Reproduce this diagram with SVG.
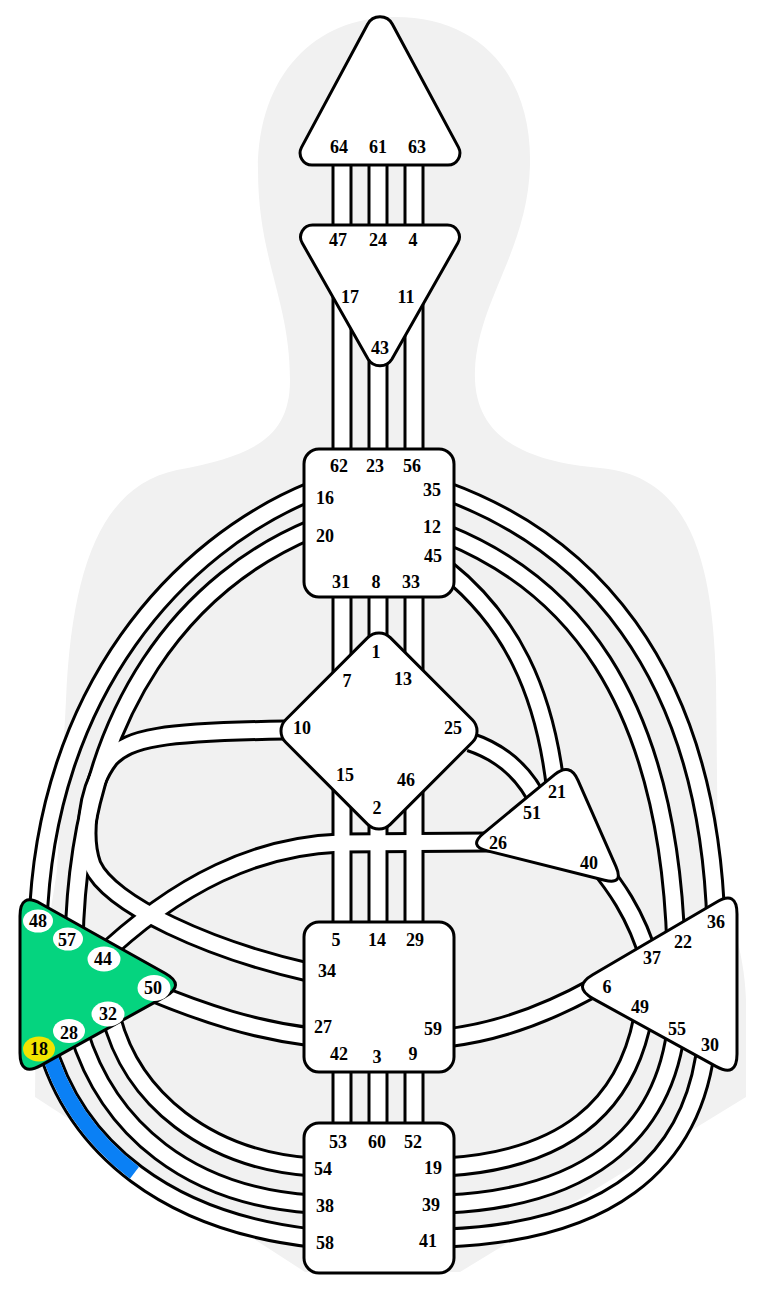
<svg xmlns="http://www.w3.org/2000/svg" width="760" height="1302" viewBox="0 0 760 1302">
<style>
.bg{fill:#f1f1f1}
.outline use{fill:none;stroke:#000;stroke-width:21}
.inner use{fill:none;stroke:#fff;stroke-width:15}
.ctr{fill:#fff;stroke:#000;stroke-width:3;stroke-linejoin:round}
.spl{fill:#05d47f;stroke:#000;stroke-width:3;stroke-linejoin:round}
.gate{fill:#fff}
.act{fill:#f2e400}
text{font-family:"Liberation Serif","Times New Roman",serif;font-weight:bold;font-size:18px;text-anchor:middle;fill:#000}
</style>
<defs>
<path id="c64-47" d="M342 160V230"/>
<path id="c61-24" d="M378 160V230"/>
<path id="c63-4" d="M414 160V230"/>
<path id="c17-62" d="M342 260V455"/>
<path id="c43-23" d="M378 340V455"/>
<path id="c11-56" d="M414 260V455"/>
<path id="c31-7" d="M342 592V700"/>
<path id="c8-1" d="M378 592V650"/>
<path id="c33-13" d="M414 592V700"/>
<path id="c15-5" d="M342 760V928"/>
<path id="c2-14" d="M378 810V928"/>
<path id="c46-29" d="M414 760V928"/>
<path id="c42-53" d="M342 1068V1128"/>
<path id="c3-60" d="M378 1068V1128"/>
<path id="c9-52" d="M414 1068V1128"/>
<path id="c16-48" d="M312 491C180 545 45 690 38 925"/>
<path id="c20-57" d="M312 529C195 578 78 700 74 945"/>
<path id="c10-34" d="M312 973C210 950 110 905 92 865C83 840 85 790 110 758C130 738 160 732 285 730"/>
<path id="c27-50" d="M312 1037C255 1030 205 1014 150 991"/>
<path id="c44-26" d="M490 842L340 843C260 846 180 880 95 962"/>
<path id="c58-18" pathLength="100" d="M45 1040C75 1150 170 1222 312 1238"/>
<path id="c38-28" d="M78 1030C108 1130 190 1196 312 1204"/>
<path id="c54-32" d="M110 1012C130 1100 210 1160 312 1167"/>
<path id="c35-36" d="M446 491C580 540 708 660 716 925"/>
<path id="c12-22" d="M446 534C565 582 668 690 676 948"/>
<path id="c45-21" d="M446 569C510 620 545 690 556 792"/>
<path id="c25-51" d="M470 742C500 752 525 772 540 805"/>
<path id="c40-37" d="M596 862C612 882 636 912 650 962"/>
<path id="c59-6" d="M446 1038C500 1032 550 1012 595 987"/>
<path id="c49-19" d="M645 1005C630 1110 560 1160 446 1167"/>
<path id="c55-39" d="M677 1022C665 1140 580 1198 446 1204"/>
<path id="c30-41" d="M707 1038C695 1170 600 1232 446 1238"/>
</defs>
<path id="body" class="bg" d="M395 17C480 17 532 75 530 165C528 250 478 300 475 370C472 440 530 462 600 468C690 476 713 560 716 680L718 870C725 900 745 950 746 1000L746 1097L460 1272L305 1272L35 1097L36 1000C37 980 50 920 57 870L66 700C72 560 105 485 177 470C250 456 290 440 290 380C290 300 258 260 258 170C258 75 315 17 395 17Z"/>
<g id="connectors">
<g class="outline">
<use href="#c64-47"/><use href="#c61-24"/><use href="#c63-4"/>
<use href="#c17-62"/><use href="#c43-23"/><use href="#c11-56"/>
<use href="#c31-7"/><use href="#c8-1"/><use href="#c33-13"/>
<use href="#c15-5"/><use href="#c2-14"/><use href="#c46-29"/>
<use href="#c42-53"/><use href="#c3-60"/><use href="#c9-52"/>
<use href="#c16-48"/><use href="#c20-57"/><use href="#c10-34"/>
<use href="#c27-50"/><use href="#c44-26"/><use href="#c58-18"/>
<use href="#c38-28"/><use href="#c54-32"/><use href="#c35-36"/>
<use href="#c12-22"/><use href="#c45-21"/><use href="#c25-51"/>
<use href="#c40-37"/><use href="#c59-6"/><use href="#c49-19"/>
<use href="#c55-39"/><use href="#c30-41"/>
</g>
<g class="inner">
<use href="#c64-47"/><use href="#c61-24"/><use href="#c63-4"/>
<use href="#c17-62"/><use href="#c43-23"/><use href="#c11-56"/>
<use href="#c31-7"/><use href="#c8-1"/><use href="#c33-13"/>
<use href="#c15-5"/><use href="#c2-14"/><use href="#c46-29"/>
<use href="#c42-53"/><use href="#c3-60"/><use href="#c9-52"/>
<use href="#c16-48"/><use href="#c20-57"/><use href="#c10-34"/>
<use href="#c27-50"/><use href="#c44-26"/><use href="#c58-18"/>
<use href="#c38-28"/><use href="#c54-32"/><use href="#c35-36"/>
<use href="#c12-22"/><use href="#c45-21"/><use href="#c25-51"/>
<use href="#c40-37"/><use href="#c59-6"/><use href="#c49-19"/>
<use href="#c55-39"/><use href="#c30-41"/>
</g>
<use href="#c58-18" fill="none" stroke="#0a80f5" stroke-width="15" stroke-dasharray="46 200"/>
</g>
<g id="head">
<path class="ctr" d="M367.6 24.2A14 14 0 0 1 392.4 24.2L458.5 147.4A12 12 0 0 1 448 165L312 165A12 12 0 0 1 301.5 147.4Z"/>
<text x="339" y="153">64</text><text x="378" y="153">61</text><text x="417" y="153">63</text>
</g>
<g id="ajna">
<path class="ctr" d="M312.7 225L447.3 225A12 12 0 0 1 457.8 243L392 358.9A14 14 0 0 1 368 358.9L302.2 243A12 12 0 0 1 312.7 225Z"/>
<text x="338" y="246">47</text><text x="378" y="246">24</text><text x="413" y="246">4</text>
<text x="350" y="303">17</text><text x="406" y="303">11</text><text x="380" y="354">43</text>
</g>
<g id="throat">
<rect class="ctr" x="304" y="449" width="150" height="148" rx="15"/>
<text x="339" y="472">62</text><text x="375" y="472">23</text><text x="412" y="472">56</text>
<text x="325" y="504">16</text><text x="432" y="496">35</text>
<text x="325" y="542">20</text><text x="432" y="533">12</text><text x="433" y="562">45</text>
<text x="341" y="588">31</text><text x="376" y="588">8</text><text x="411" y="588">33</text>
</g>
<g id="g-center">
<rect class="ctr" x="-74" y="-74" width="148" height="148" rx="16" transform="translate(379 731) rotate(45)"/>
<text x="376" y="658">1</text><text x="347" y="687">7</text><text x="403" y="685">13</text>
<text x="302" y="734">10</text><text x="453" y="734">25</text>
<text x="345" y="781">15</text><text x="406" y="786">46</text><text x="377" y="814">2</text>
</g>
<g id="heart">
<path class="ctr" d="M554.6 774.7Q570 762 578 780.3L616 866.7Q624 885 604.6 880.2L487.4 850.9Q468 846 483.4 833.3Z"/>
<text x="557" y="798">21</text><text x="532" y="819">51</text><text x="498" y="849">26</text><text x="589" y="869">40</text>
</g>
<g id="spleen">
<path class="spl" d="M20 916Q20 892 40.9 903.7L165.1 973.3Q186 985 165 996.6L41 1065.4Q20 1077 20 1053Z"/>
<ellipse class="gate" cx="38" cy="921" rx="15" ry="11.5"/>
<ellipse class="gate" cx="68" cy="939" rx="15" ry="11.5"/>
<ellipse class="gate" cx="104" cy="959" rx="16.5" ry="12.5"/>
<ellipse class="gate" cx="154" cy="988" rx="16.5" ry="13"/>
<ellipse class="gate" cx="108" cy="1014" rx="16.5" ry="12.5"/>
<ellipse class="gate" cx="69" cy="1031" rx="16" ry="12"/>
<ellipse class="act" cx="39" cy="1049" rx="16" ry="12.5"/>
<text x="38" y="927">48</text><text x="67" y="946">57</text><text x="103" y="965">44</text>
<text x="153" y="994">50</text><text x="108" y="1020">32</text><text x="69" y="1039">28</text><text x="39" y="1055">18</text>
</g>
<g id="solar-plexus">
<path class="ctr" d="M593 998.6Q572 987 592.7 974.8L716.3 902.2Q737 890 737 914L737 1054Q737 1078 716 1066.4Z"/>
<text x="716" y="928">36</text><text x="683" y="948">22</text><text x="652" y="964">37</text>
<text x="607" y="993">6</text><text x="640" y="1013">49</text><text x="677" y="1035">55</text><text x="710" y="1051">30</text>
</g>
<g id="sacral">
<rect class="ctr" x="304" y="922" width="150" height="150" rx="15"/>
<text x="336" y="946">5</text><text x="377" y="946">14</text><text x="415" y="946">29</text>
<text x="327" y="977">34</text><text x="323" y="1033">27</text><text x="433" y="1035">59</text>
<text x="339" y="1060">42</text><text x="377" y="1063">3</text><text x="413" y="1060">9</text>
</g>
<g id="root">
<rect class="ctr" x="304" y="1123" width="150" height="150" rx="15"/>
<text x="338" y="1148">53</text><text x="377" y="1148">60</text><text x="413" y="1148">52</text>
<text x="323" y="1175">54</text><text x="433" y="1174">19</text>
<text x="325" y="1212">38</text><text x="431" y="1211">39</text>
<text x="325" y="1249">58</text><text x="428" y="1247">41</text>
</g>
</svg>
